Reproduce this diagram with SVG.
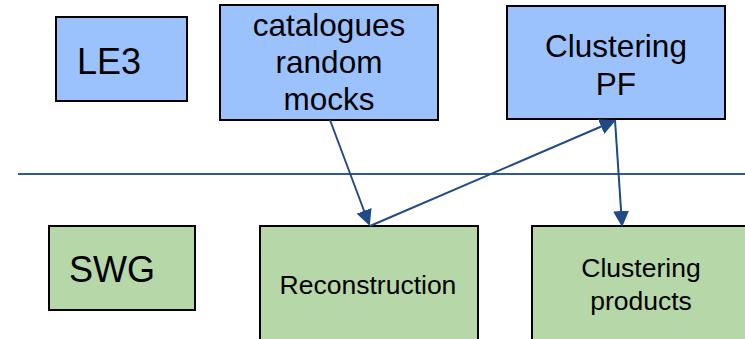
<svg xmlns="http://www.w3.org/2000/svg" width="745" height="339" viewBox="0 0 745 339">
<style>
.le3{fill:#9cc2fd;stroke:#000;stroke-width:2}
.swg{fill:#b6d7a8;stroke:#000;stroke-width:2}
text{font-family:"Liberation Sans",Arial,sans-serif;fill:#000;text-anchor:middle}
.big{font-size:31.5px}
.small{font-size:26.5px}
.conn{stroke:#1f4a85;stroke-width:2;fill:none}
</style>
<defs>
<marker id="ah" markerWidth="8" markerHeight="8" refX="7" refY="4" orient="auto" markerUnits="strokeWidth" viewBox="0 0 8 8">
<path d="M0,0 L8,4 L0,8 z" fill="#1f4a85"/>
</marker>
</defs>
<rect width="745" height="339" fill="#fff"/>
<g id="separator">
<line x1="18" y1="174" x2="745" y2="174" stroke="#2f5a92" stroke-width="1.8"/>
</g>
<g id="le3">
<rect class="le3" x="56" y="17" width="131" height="84"/>
<text x="109" y="74" style="font-size:36px">LE3</text>
</g>
<g id="catalogues">
<rect class="le3" x="220" y="5" width="218" height="115"/>
<text class="big" x="329" y="36">catalogues</text>
<text class="big" x="329" y="73">random</text>
<text class="big" x="329" y="110">mocks</text>
</g>
<g id="clusteringpf">
<rect class="le3" x="507" y="6" width="218" height="113"/>
<text class="big" x="616" y="57">Clustering</text>
<text class="big" x="616" y="95">PF</text>
</g>
<g id="swg">
<rect class="swg" x="49" y="226" width="146" height="84"/>
<text x="112" y="282" style="font-size:36px">SWG</text>
</g>
<g id="reconstruction">
<rect class="swg" x="260" y="226" width="218" height="114"/>
<text class="small" x="368" y="294">Reconstruction</text>
</g>
<g id="clusteringproducts">
<rect class="swg" x="532" y="226" width="220" height="114"/>
<text class="small" x="641" y="277">Clustering</text>
<text class="small" x="641" y="310">products</text>
</g>
<g id="connectors">
<line class="conn" x1="330" y1="120" x2="369" y2="224" marker-end="url(#ah)"/>
<line class="conn" x1="370" y1="226" x2="614" y2="121" marker-end="url(#ah)"/>
<line class="conn" x1="615" y1="120" x2="622" y2="225" marker-end="url(#ah)"/>
</g>
</svg>
